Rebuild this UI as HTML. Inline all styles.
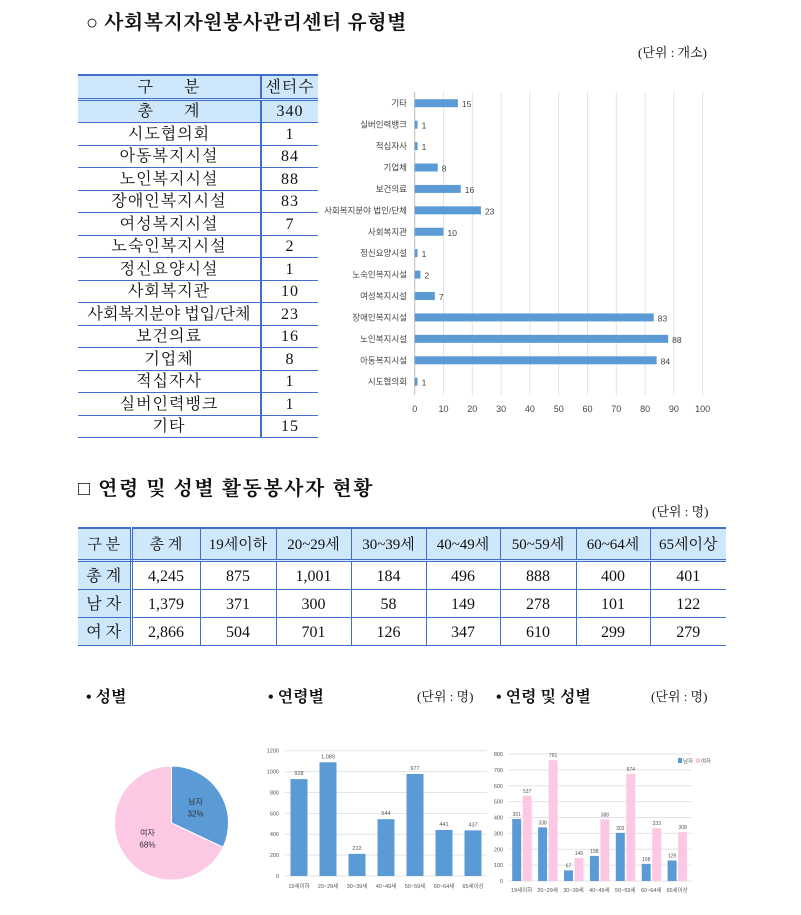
<!DOCTYPE html>
<html><head><meta charset="utf-8">
<style>
body{margin:0;background:#fff;width:801px;height:915px;position:relative;overflow:hidden;font-family:"Liberation Serif","Noto Serif CJK KR",serif;color:#111}
.a{position:absolute;white-space:nowrap}
table{border-collapse:collapse;position:absolute;table-layout:fixed}
td{padding:0;text-align:center;font-size:16px;line-height:1}
#t1 td{border-bottom:1px solid #3f6fc9;height:19.5px;padding-top:2px;letter-spacing:1px}
#t1 td.c1{border-right:2px solid #3f6fc9}
#t1 tr.h td{background:#cfe7fa}
#t1 tr.top td{border-top:2px solid #3f6fc9;border-bottom:3px double #3f6fc9}
#t2 td{border-bottom:1px solid #3f6fc9;border-right:1px solid #3f6fc9;font-size:16px;padding-top:2px}
#t2 td:last-child{border-right:none}
#t2 td.c1{border-right:3px double #3f6fc9;background:#cfe7fa}
#t2 tr.h td{background:#cfe7fa;border-bottom:3px double #3f6fc9;border-top:2px solid #3f6fc9;height:28px;font-size:15px}
#t2 tr.r td{height:25px}
svg text{font-family:"Liberation Sans","Noto Sans CJK KR",sans-serif}
</style></head><body>
<div class="a" style="left:86px;top:6px;font-size:20px;font-weight:bold;letter-spacing:0.5px">○ 사회복지자원봉사관리센터 유형별</div>
<div class="a" style="left:638px;top:42px;font-size:13px">(단위 : 개소)</div>
<table id="t1" style="left:78px;top:74px;width:240px">
<colgroup><col style="width:183px"><col style="width:57px"></colgroup>
<tr class="h top"><td class="c1">구 &nbsp;&nbsp;&nbsp;&nbsp; 분</td><td>센터수</td></tr>
<tr class="h"><td class="c1">총 &nbsp;&nbsp;&nbsp;&nbsp; 계</td><td>340</td></tr>
<tr><td class="c1">시도협의회</td><td>1</td></tr>
<tr><td class="c1">아동복지시설</td><td>84</td></tr>
<tr><td class="c1">노인복지시설</td><td>88</td></tr>
<tr><td class="c1">장애인복지시설</td><td>83</td></tr>
<tr><td class="c1">여성복지시설</td><td>7</td></tr>
<tr><td class="c1">노숙인복지시설</td><td>2</td></tr>
<tr><td class="c1">정신요양시설</td><td>1</td></tr>
<tr><td class="c1">사회복지관</td><td>10</td></tr>
<tr><td class="c1" style="letter-spacing:0">사회복지분야 법입/단체</td><td>23</td></tr>
<tr><td class="c1">보건의료</td><td>16</td></tr>
<tr><td class="c1">기업체</td><td>8</td></tr>
<tr><td class="c1">적십자사</td><td>1</td></tr>
<tr><td class="c1">실버인력뱅크</td><td>1</td></tr>
<tr><td class="c1">기타</td><td>15</td></tr>
</table>
<svg id="hbar" class="a" style="left:0;top:0" width="801" height="440"></svg>

<div class="a" style="left:78px;top:472px;font-size:20px;font-weight:bold;letter-spacing:1.5px">□ 연령 및 성별 활동봉사자 현황</div>
<div class="a" style="left:652px;top:501px;font-size:13px">(단위 : 명)</div>
<table id="t2" style="left:78px;top:527px;width:648px">
<colgroup><col style="width:53px"><col style="width:69px"><col style="width:76px"><col style="width:75px"><col style="width:75px"><col style="width:74px"><col style="width:76px"><col style="width:74px"><col style="width:76px"></colgroup>
<tr class="h"><td class="c1">구 분</td><td>총 계</td><td>19세이하</td><td>20~29세</td><td>30~39세</td><td>40~49세</td><td>50~59세</td><td>60~64세</td><td>65세이상</td></tr>
<tr class="r"><td class="c1">총 계</td><td>4,245</td><td>875</td><td>1,001</td><td>184</td><td>496</td><td>888</td><td>400</td><td>401</td></tr>
<tr class="r"><td class="c1">남 자</td><td>1,379</td><td>371</td><td>300</td><td>58</td><td>149</td><td>278</td><td>101</td><td>122</td></tr>
<tr class="r"><td class="c1">여 자</td><td>2,866</td><td>504</td><td>701</td><td>126</td><td>347</td><td>610</td><td>299</td><td>279</td></tr>
</table>

<div class="a" style="left:86px;top:684px;font-size:16px;font-weight:bold">• 성별</div>
<div class="a" style="left:268px;top:684px;font-size:16px;font-weight:bold">• 연령별</div>
<div class="a" style="left:417px;top:686px;font-size:13px">(단위 : 명)</div>
<div class="a" style="left:496px;top:684px;font-size:16px;font-weight:bold">• 연령 및 성별</div>
<div class="a" style="left:651px;top:686px;font-size:13px">(단위 : 명)</div>
<svg id="bottom" class="a" style="left:0;top:0" width="801" height="915"></svg>

<script>
const hCats=['시도협의회','아동복지시설','노인복지시설','장애인복지시설','여성복지시설','노숙인복지시설','정신요양시설','사회복지관','사회복지분야 법인/단체','보건의료','기업체','적십자사','실버인력뱅크','기타'];
const hVals=[1,84,88,83,7,2,1,10,23,16,8,1,1,15];
const hTicks=[0,10,20,30,40,50,60,70,80,90,100];

const ageCats=['19세이하','20~29세','30~39세','40~49세','50~59세','60~64세','65세이상'];
const ageVals=[928,1089,212,544,977,441,437];
const ageTicks=[0,200,400,600,800,1000,1200];
const ageLabels=['928','1,089','212','544','977','441','437'];

const menVals=[391,338,67,158,303,108,129];
const womenVals=[537,761,145,388,674,333,308];
const agTicks=[0,100,200,300,400,500,600,700,800];

const pieLabels=['남자','여자'];
const pieVals=[32,68];

const NS='http://www.w3.org/2000/svg';
function mk(svg,tag,at,txt){const e=document.createElementNS(NS,tag);for(const k in at)e.setAttribute(k,at[k]);if(txt!==undefined)e.textContent=txt;svg.appendChild(e);return e;}

(function(){
const s=document.getElementById('hbar');
const x=v=>414.7+v*2.88;
const y=i=>381.7-i*21.42;
hTicks.forEach(t=>{
 const g=mk(s,'line',{x1:x(t),x2:x(t),y1:92,y2:395,stroke:t===0?'#bbb':'#e3e3e3','stroke-width':1});
 
 const l=mk(s,'text',{x:x(t),y:412,'font-size':9,'text-anchor':'middle',fill:'#444'},t);
 
});
hCats.forEach((c,i)=>{
 const l=mk(s,'text',{x:407,y:y(i)+3,'font-size':8.5,'text-anchor':'end',fill:'#444'},c);
 
 const b=mk(s,'rect',{x:x(0),y:y(i)-4,width:x(hVals[i])-x(0),height:8,fill:'#5b9bd5'});
 
 const v=mk(s,'text',{x:x(hVals[i])+4,y:y(i)+4,'font-size':8.5,fill:'#444'},hVals[i]);
 
});
})();

const s=document.getElementById('bottom');
(function(){
const cx=171.5,cy=823,r=57;let a=0;const cols=['#5b9bd5','#fdc8e3'];
const tot=pieVals.reduce((p,q)=>p+q,0);
pieVals.forEach((v,i)=>{
 const a0=a,a1=a+v/tot*2*Math.PI;a=a1;
 const p=(t)=>[cx+r*Math.sin(t),cy-r*Math.cos(t)];
 const [x0,y0]=p(a0),[x1,y1]=p(a1);
 const sl=mk(s,'path',{d:`M${cx},${cy}L${x0},${y0}A${r},${r} 0 ${a1-a0>Math.PI?1:0} 1 ${x1},${y1}Z`,fill:cols[i],stroke:'#fff','stroke-width':1});
 
 const m=(a0+a1)/2;const lx=cx+r*0.5*Math.sin(m),ly=cy-r*0.5*Math.cos(m);
 const t1=mk(s,'text',{x:lx,y:ly-3,'font-size':8,'text-anchor':'middle',fill:'#333'},pieLabels[i]);
 
 const t2=mk(s,'text',{x:lx,y:ly+9,'font-size':8,'text-anchor':'middle',fill:'#333'},v+'%');
 
});
})();
(function(){
const y=v=>876-v*(125.3/1200);const x=i=>299+i*29;
ageTicks.forEach(t=>{
 const g=mk(s,'line',{x1:285,x2:487,y1:y(t),y2:y(t),stroke:'#e3e3e3'});
 
 const l=mk(s,'text',{x:279,y:y(t)+2,'font-size':5.5,'text-anchor':'end',fill:'#555'},t);
 
});
ageCats.forEach((c,i)=>{
 const b=mk(s,'rect',{x:x(i)-8.5,y:y(ageVals[i]),width:17,height:y(0)-y(ageVals[i]),fill:'#5b9bd5'});
 
 const v=mk(s,'text',{x:x(i),y:y(ageVals[i])-4,'font-size':5.5,'text-anchor':'middle',fill:'#555'},ageLabels[i]);
 
 const l=mk(s,'text',{x:x(i),y:888,'font-size':5.5,'text-anchor':'middle',fill:'#555'},c);
 
});
})();
(function(){
const y=v=>881-v*(127/800);const x=i=>516.7+i*25.9;
agTicks.forEach(t=>{
 const g=mk(s,'line',{x1:508,x2:692,y1:y(t),y2:y(t),stroke:'#e3e3e3'});
 
 const l=mk(s,'text',{x:503,y:y(t)+2,'font-size':5.5,'text-anchor':'end',fill:'#555'},t);
 
});
ageCats.forEach((c,i)=>{
 const b=mk(s,'rect',{x:x(i)-4.5,y:y(menVals[i]),width:9,height:y(0)-y(menVals[i]),fill:'#5b9bd5'});
 
 const w=mk(s,'rect',{x:x(i)+6,y:y(womenVals[i]),width:9,height:y(0)-y(womenVals[i]),fill:'#fdc8e3'});
 
 const v1=mk(s,'text',{x:x(i),y:y(menVals[i])-3,'font-size':5,'text-anchor':'middle',fill:'#555'},menVals[i]);
 
 const v2=mk(s,'text',{x:x(i)+10.5,y:y(womenVals[i])-3,'font-size':5,'text-anchor':'middle',fill:'#555'},womenVals[i]);
 
 const l=mk(s,'text',{x:x(i)+5,y:892,'font-size':5.5,'text-anchor':'middle',fill:'#555'},c);
 
});
const lg=mk(s,'g',{});
mk(lg,'rect',{x:678,y:758,width:4,height:5,fill:'#5b9bd5'});
mk(lg,'text',{x:683,y:763,'font-size':5.5,fill:'#555'},'남자');
mk(lg,'rect',{x:696,y:758,width:4,height:5,fill:'#fdc8e3'});
mk(lg,'text',{x:701,y:763,'font-size':5.5,fill:'#555'},'여자');
})();
</script>
</body></html>
